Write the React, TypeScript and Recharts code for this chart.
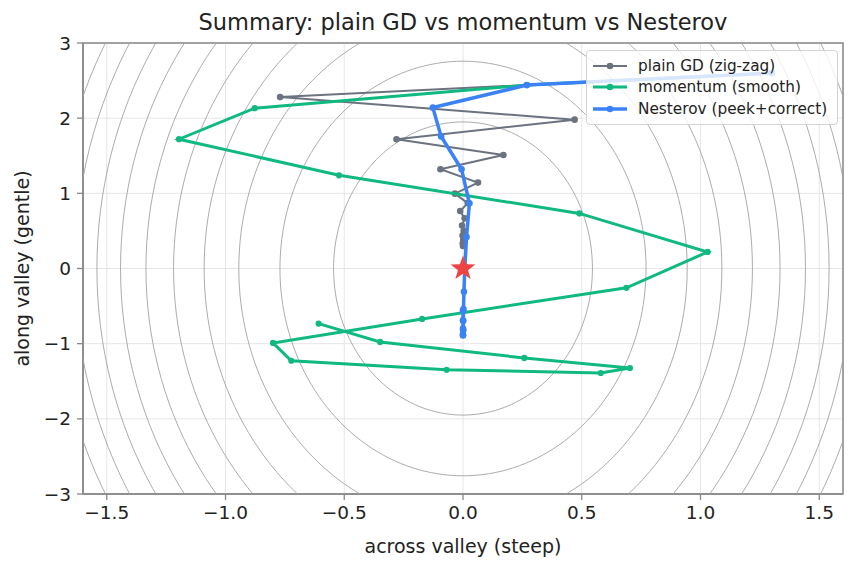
import React from 'react';
import {
  ScatterChart,
  Scatter,
  XAxis,
  YAxis,
  CartesianGrid,
  Legend,
  ReferenceArea,
} from 'recharts';

// trajectories (start point sits behind the legend)
const gdX = [1.3, -0.77, 0.47, -0.28, 0.17, -0.095, 0.063, -0.034, 0.02, -0.012, 0.007, -0.004, 0.003, -0.002, 0.001, -0.001, 0.0];
const gdY = [2.6, 2.28, 1.98, 1.72, 1.51, 1.32, 1.143, 0.996, 0.87, 0.764, 0.667, 0.573, 0.5, 0.44, 0.38, 0.335, 0.3];

const momX = [1.3, 0.27, -0.877, -1.196, -0.522, 0.49, 1.03, 0.688, -0.172, -0.8, -0.723, -0.069, 0.58, 0.703, 0.258, -0.349, -0.608];
const momY = [2.6, 2.44, 2.133, 1.72, 1.24, 0.733, 0.22, -0.257, -0.671, -0.99, -1.227, -1.347, -1.39, -1.324, -1.19, -0.977, -0.733];

const nesX = [1.3, 0.268, -0.127, -0.092, -0.006, 0.027, 0.015, 0.008, 0.004, 0.002, 0.001, 0.001, 0.0, 0.0, 0.0, 0.0, 0.0];
const nesY = [2.6, 2.44, 2.14, 1.756, 1.32, 0.867, 0.42, 0.03, -0.31, -0.54, -0.7, -0.82, -0.89, -0.88, -0.8, -0.69, -0.56];

const minimum = [{ x: 0, y: 0 }];

// contour levels as multiples of the innermost ellipse (semi-axes)
const contourLevels = [1, 2, 3, 4, 5, 6, 7, 8, 9, 10, 11];
const innerSemiX = 0.545;
const innerSemiY = 1.95;

const xTicks = [-1.5, -1, -0.5, 0, 0.5, 1, 1.5];
const yTicks = [-3, -2, -1, 0, 1, 2, 3];

const GRAY = '#6b7280';
const GREEN = '#10b981';
const BLUE = '#3b82f6';
const RED = '#ef4444';
const FONT = '"DejaVu Sans", sans-serif';

const zip = (xs: number[], ys: number[]) => xs.map((x, i) => ({ x, y: ys[i] }));

const ellipse = (k: number) => {
  const pts = [];
  const n = 180;
  for (let i = 0; i <= n; i++) {
    const t = (i / n) * Math.PI * 2;
    pts.push({ x: innerSemiX * Math.sqrt(k) * Math.cos(t), y: innerSemiY * Math.sqrt(k) * Math.sin(t) });
  }
  return pts;
};

const minus = (s: string) => s.replace('-', '\u2212');
const fmtX = (v: number) => minus(v.toFixed(1));
const fmtY = (v: number) => minus(String(v));

const dot = (color: string, r: number) => (props: any) => (
  <circle cx={props.cx} cy={props.cy} r={r} fill={color} />
);

const Star = (props: any) => {
  const { cx, cy } = props;
  const outer = 13;
  const inner = 5.3;
  const pts: string[] = [];
  for (let i = 0; i < 10; i++) {
    const r = i % 2 === 0 ? outer : inner;
    const a = -Math.PI / 2 + (i * Math.PI) / 5;
    pts.push(`${cx + r * Math.cos(a)},${cy + r * Math.sin(a)}`);
  }
  return <polygon points={pts.join(' ')} fill={RED} />;
};

const legendItems = [
  { label: 'plain GD (zig-zag)', color: GRAY, width: 2 },
  { label: 'momentum (smooth)', color: GREEN, width: 3 },
  { label: 'Nesterov (peek+correct)', color: BLUE, width: 3.5 },
];

const LegendBox = () => (
  <div
    style={{
      background: 'rgba(255,255,255,0.8)',
      border: '1px solid #d4d4d4',
      borderRadius: 4,
      padding: '4px 8px 4px 6px',
      boxSizing: 'border-box',
      fontFamily: FONT,
      fontSize: 15.3,
      color: '#222',
    }}
  >
    {legendItems.map((it) => (
      <div key={it.label} style={{ display: 'flex', alignItems: 'center', height: 21.5 }}>
        <svg width={34} height={12} style={{ marginRight: 11 }}>
          <line x1={0} y1={6} x2={34} y2={6} stroke={it.color} strokeWidth={it.width} />
          <circle cx={17} cy={6} r={3.3} fill={it.color} />
        </svg>
        <span style={{ whiteSpace: 'nowrap' }}>{it.label}</span>
      </div>
    ))}
  </div>
);

const XLabel = (props: any) => {
  const vb = props.viewBox;
  return (
    <text x={vb.x + vb.width / 2} y={vb.y + 52} textAnchor="middle" dominantBaseline="central"
      fontFamily={FONT} fontSize={19} fill="#222">
      across valley (steep)
    </text>
  );
};

const YLabel = (props: any) => {
  const vb = props.viewBox;
  const x = vb.x + 22;
  const y = vb.y + vb.height / 2;
  return (
    <text x={x} y={y} textAnchor="middle" dominantBaseline="central" transform={`rotate(-90, ${x}, ${y})`}
      fontFamily={FONT} fontSize={19} fill="#222">
      along valley (gentle)
    </text>
  );
};

export default function App() {
  const tickStyle = { fontFamily: FONT, fontSize: 18.5, fill: '#222' };
  return (
    <div style={{ position: 'absolute', left: 0, top: 0, width: 856, height: 569, background: '#fff' }}>
      <div
        style={{
          position: 'absolute', left: 83, top: 8, width: 760, textAlign: 'center',
          fontFamily: FONT, fontSize: 22.5, color: '#222', lineHeight: '28px',
        }}
      >
        Summary: plain GD vs momentum vs Nesterov
      </div>
      <ScatterChart width={856} height={569} margin={{ top: 43, right: 13, bottom: 0, left: 0 }}>
        <CartesianGrid stroke="#e6e6e6" strokeWidth={1} />
        <XAxis
          type="number" dataKey="x" domain={[-1.6, 1.6]} allowDataOverflow ticks={xTicks}
          tickFormatter={fmtX} height={75} tick={tickStyle} tickSize={6} tickMargin={6}
          axisLine={{ stroke: '#888', strokeWidth: 1.5 }} tickLine={{ stroke: '#888', strokeWidth: 1.3 }}
          label={{ content: XLabel }}
        />
        <YAxis
          type="number" dataKey="y" domain={[-3, 3]} allowDataOverflow ticks={yTicks}
          tickFormatter={fmtY} width={83} tick={tickStyle} tickSize={6} tickMargin={6}
          axisLine={{ stroke: '#888', strokeWidth: 1.5 }} tickLine={{ stroke: '#888', strokeWidth: 1.3 }}
          label={{ content: YLabel }}
        />
        {contourLevels.map((k) => (
          <Scatter
            key={`c-${k}`} data={ellipse(k)} line={{ stroke: '#a3a3a3', strokeWidth: 0.9 }}
            shape={() => <g />} isAnimationActive={false} legendType="none"
          />
        ))}
        <Scatter data={zip(gdX, gdY)} line={{ stroke: GRAY, strokeWidth: 2 }} shape={dot(GRAY, 3.3)} isAnimationActive={false} />
        <Scatter data={zip(momX, momY)} line={{ stroke: GREEN, strokeWidth: 3 }} shape={dot(GREEN, 3.1)} isAnimationActive={false} />
        <Scatter data={zip(nesX, nesY)} line={{ stroke: BLUE, strokeWidth: 3.5 }} shape={dot(BLUE, 3.3)} isAnimationActive={false} />
        <Scatter data={minimum} shape={Star} isAnimationActive={false} />
        <ReferenceArea x1={-1.6} x2={1.6} y1={-3} y2={3} fill="none" stroke="#888" strokeWidth={1.5} />
        <Legend
          layout="horizontal" verticalAlign="middle" align="center"
          wrapperStyle={{ left: 586, top: 50, width: 252 }}
          content={LegendBox}
        />
      </ScatterChart>
    </div>
  );
}
